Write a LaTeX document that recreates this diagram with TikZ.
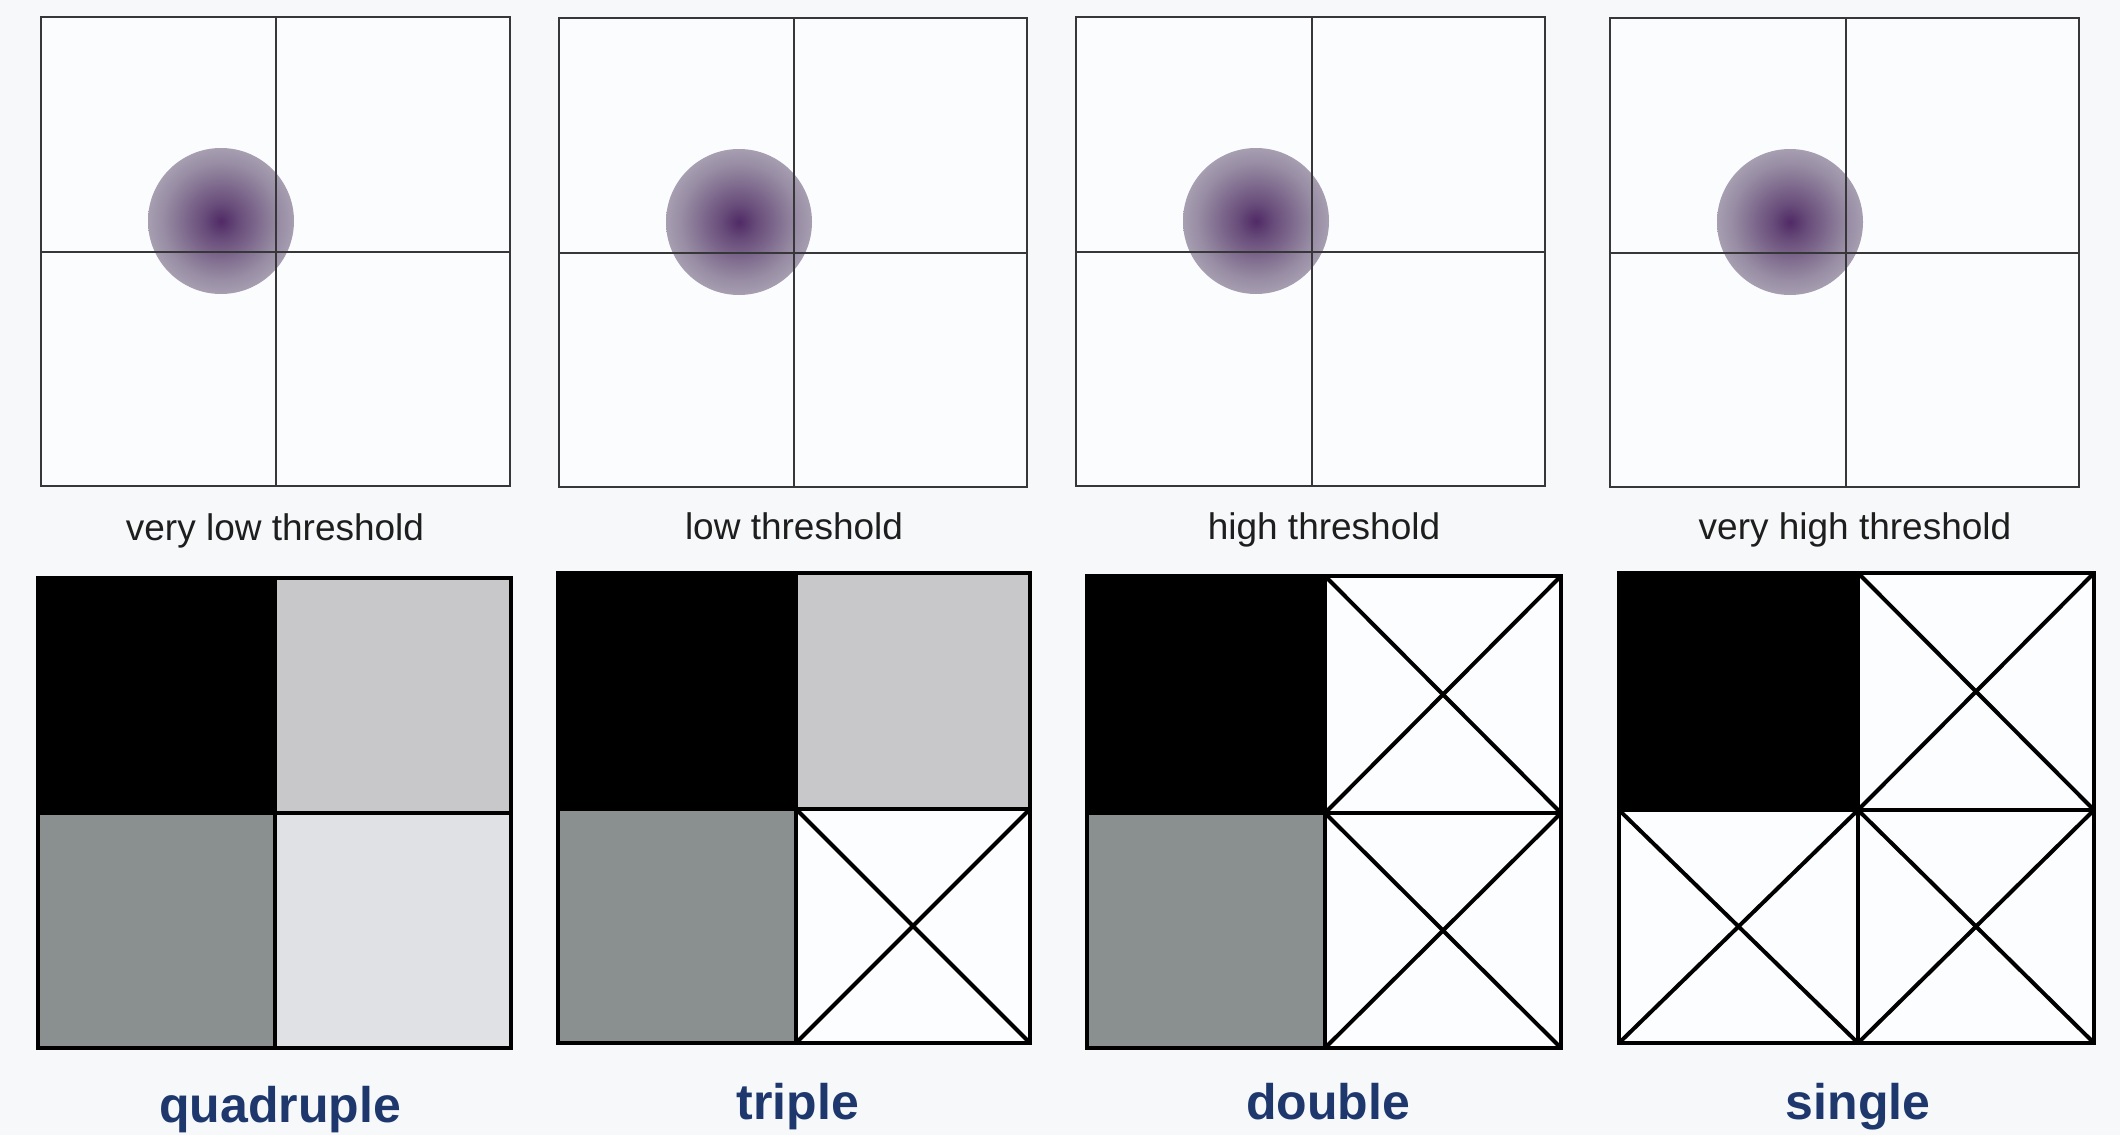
\documentclass[tikz,border=0pt]{standalone}
\usepackage{fontspec}
\setmainfont{Liberation Sans}
\definecolor{bgc}{RGB}{246,248,250}
\definecolor{panelc}{RGB}{250,252,253}
\definecolor{linec}{RGB}{55,55,58}
\definecolor{lgray}{RGB}{200,200,203}
\definecolor{dgray}{RGB}{138,143,143}
\definecolor{vlgray}{RGB}{224,225,228}
\definecolor{cellw}{RGB}{252,253,254}
\definecolor{labblue}{RGB}{30,56,110}
\definecolor{txtc}{RGB}{30,30,30}
\definecolor{blobA}{RGB}{80,42,102}
\definecolor{blobB}{RGB}{104,76,122}
\definecolor{blobC}{RGB}{152,141,164}
\definecolor{blobD}{RGB}{190,185,198}
\definecolor{blobE}{RGB}{212,210,218}
\pgfdeclareradialshading{blob}{\pgfpoint{0bp}{0bp}}{color(0bp)=(blobA); color(6bp)=(blobB); color(20bp)=(blobC); color(33bp)=(blobD); color(50bp)=(blobE)}
\tikzset{
  thinline/.style={draw=linec, line width=2.2pt},
  thickline/.style={draw=black, line width=4.5pt, line cap=rect},
  xline/.style={draw=black, line width=4pt},
  toplabel/.style={anchor=base, inner sep=0pt, text=txtc, font=\fontsize{37}{40}\selectfont},
  botlabel/.style={anchor=base, inner sep=0pt, text=labblue, font=\fontsize{50}{54}\selectfont\bfseries},
}
% top panel: x1 y1 x2 y2 xm ym cx cy
\newcommand\toppanel[8]{%
  \fill[panelc] (#1,#2) rectangle (#3,#4);
  \shade[shading=blob] (#7,#8) circle (73);
  \draw[thinline] (#5,#2) -- (#5,#4);
  \draw[thinline] (#1,#6) -- (#3,#6);
  \draw[thinline] (#1,#2) rectangle (#3,#4);
}
\newcommand\cellfill[5]{\fill[#1] (#2,#3) rectangle (#4,#5);}
\newcommand\cellcross[4]{%
  \fill[cellw] (#1,#2) rectangle (#3,#4);
  \draw[xline] (#1,#2) -- (#3,#4);
  \draw[xline] (#1,#4) -- (#3,#2);
}
\newcommand\botframe[6]{%
  \draw[thickline] (#3,#2) -- (#3,#6);
  \draw[thickline] (#1,#4) -- (#5,#4);
  \draw[thickline] (#1,#2) rectangle (#5,#6);
}
\begin{document}
\begin{tikzpicture}[x=1pt, y=-1pt]
\useasboundingbox (0,0) rectangle (2120,1135);
\fill[bgc] (0,0) rectangle (2120,1135);

% top row
\toppanel{41}{17}{510}{486}{276}{252}{221}{221}
\toppanel{559}{18}{1027}{487}{794}{253}{739}{222}
\toppanel{1076}{17}{1545}{486}{1312}{252}{1256}{221}
\toppanel{1610}{18}{2079}{487}{1846}{253}{1790}{222}

\node[toplabel] (l1) at (275,540) {very low threshold};
\node[toplabel] (l2) at (794,539) {low threshold};
\node[toplabel] (l3) at (1324,539) {high threshold};
\node[toplabel] (l4) at (1855,539) {very high threshold};

% bottom row: quadruple
\cellfill{black}{38}{578}{275}{813}
\cellfill{lgray}{275}{578}{511}{813}
\cellfill{dgray}{38}{813}{275}{1048}
\cellfill{vlgray}{275}{813}{511}{1048}
\botframe{38}{578}{275}{813}{511}{1048}

% triple
\cellfill{black}{558}{573}{796}{809}
\cellfill{lgray}{796}{573}{1030}{809}
\cellfill{dgray}{558}{809}{796}{1043}
\cellcross{796}{809}{1030}{1043}
\botframe{558}{573}{796}{809}{1030}{1043}

% double
\cellfill{black}{1087}{576}{1325}{813}
\cellcross{1325}{576}{1561}{813}
\cellfill{dgray}{1087}{813}{1325}{1048}
\cellcross{1325}{813}{1561}{1048}
\botframe{1087}{576}{1325}{813}{1561}{1048}

% single
\cellfill{black}{1619}{573}{1858}{810}
\cellcross{1858}{573}{2094}{810}
\cellcross{1619}{810}{1858}{1043}
\cellcross{1858}{810}{2094}{1043}
\botframe{1619}{573}{1858}{810}{2094}{1043}

\node[botlabel] (b1) at (280,1122) {quadruple};
\node[botlabel] (b2) at (798,1119) {triple};
\node[botlabel] (b3) at (1328,1119) {double};
\node[botlabel] (b4) at (1858,1119) {single};
\end{tikzpicture}
\end{document}
